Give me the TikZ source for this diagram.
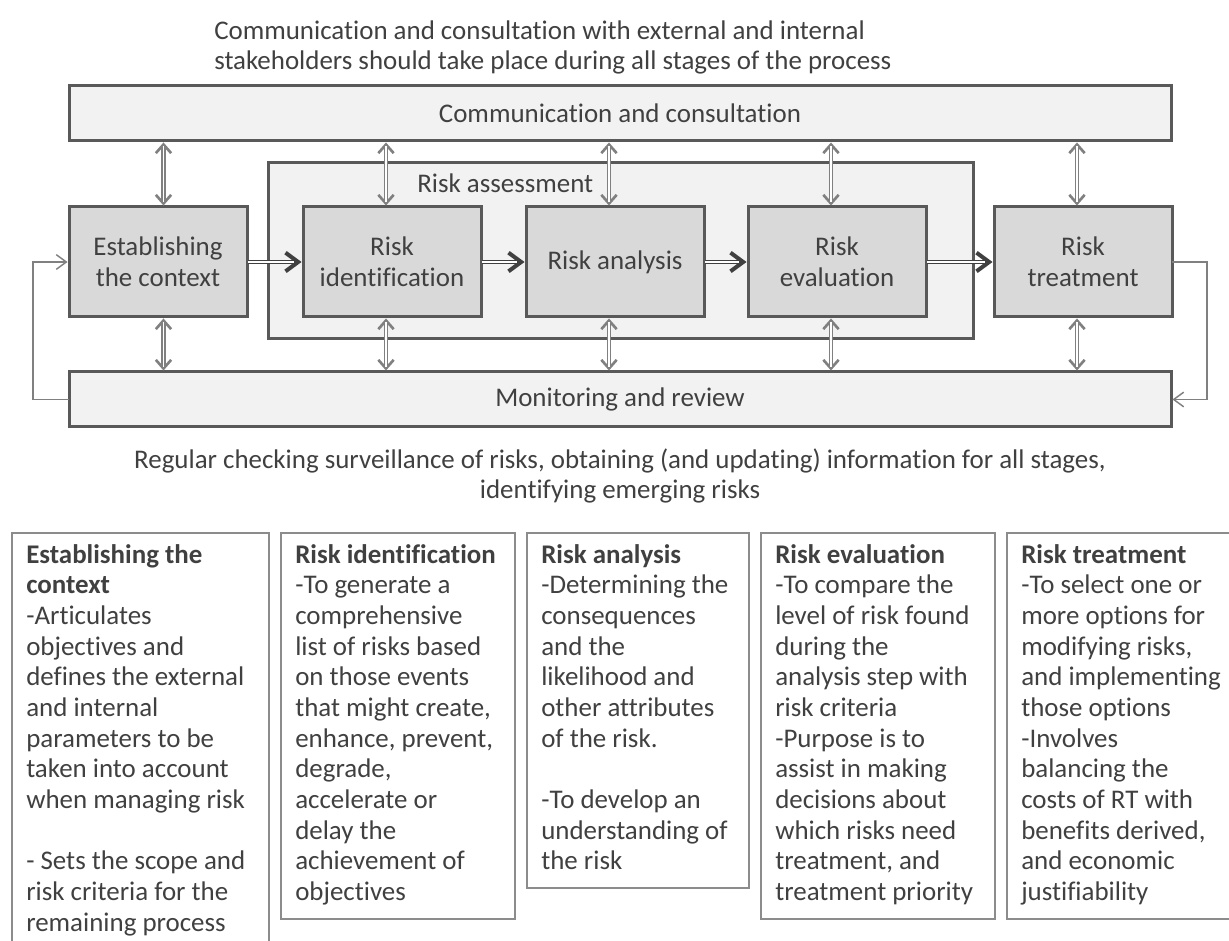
\documentclass[tikz,border=0pt]{standalone}
\usepackage{fontspec}
\setmainfont{Carlito}[Ligatures=NoCommon]
\usetikzlibrary{arrows.meta,calc}

\definecolor{txt}{HTML}{404040}
\definecolor{edge}{HTML}{595959}
\definecolor{light}{HTML}{F2F2F2}
\definecolor{mid}{HTML}{D9D9D9}
\definecolor{link}{HTML}{808080}
\definecolor{frame}{HTML}{8C8C8C}

\tikzset{
  lab/.style={font=\fontsize{20.2}{23}\selectfont, text=txt, inner sep=0pt},
  band/.style={lab, draw=edge, line width=2.25pt, fill=light, outer sep=0pt,
    minimum width=826.5pt, minimum height=41.25pt},
  stagebox/.style={lab, draw=edge, line width=2.25pt, fill=mid, outer sep=0pt,
    align=center, minimum width=133.5pt, minimum height=82.5pt},
  assessbox/.style={draw=edge, line width=2.25pt, fill=light, outer sep=0pt,
    minimum width=528.75pt, minimum height=132pt},
  descbox/.style={draw=frame, line width=1pt, outer sep=0pt, inner sep=0pt,
    anchor=north west},
  desctext/.style={lab, align=left, anchor=north west},
  % two-way link: heads first, double shaft on top
  vhead/.style={draw=link, line width=1.4pt, shorten <=1.1pt, shorten >=1.1pt,
    {Straight Barb[length=6.5pt,width=11.5pt,line width=2pt]}-{Straight Barb[length=6.5pt,width=11.5pt,line width=2pt]}},
  vshaft/.style={draw=link, line width=1.1pt, double=white, double distance=1.3pt,
    shorten <=3.8pt, shorten >=3.8pt},
  % one-way flow between stages
  hhead/.style={draw=txt, line width=1pt, shorten <=1.1pt, shorten >=1.1pt,
    -{Straight Barb[length=9.5pt,width=14pt,line width=3pt]}},
  hshaft/.style={draw=txt, line width=0.9pt, double=white, double distance=1.1pt,
    shorten <=1.1pt, shorten >=7pt},
  feedback/.style={draw=link, line width=1.1pt, shorten >=1.1pt,
    -{Straight Barb[length=7.5pt,width=11pt,line width=1.1pt]}}
}

\begin{document}
\begin{tikzpicture}[x=0.75pt,y=-0.75pt]
\useasboundingbox (0,0) rectangle (1229,941);

% header note
\node[desctext] (topnote) at (214,17.5)
  {\strut Communication and consultation with external and internal\\
   stakeholders should take place during all stages of the process};

% bands and assessment frame
\node[band] (comm) at (620,113.5) {Communication and consultation};
\node[band] (mon) at (620,399.5) {Monitoring and review};
\node[assessbox] (assess) at (620.5,251) {};
\node[lab, anchor=base west] (asslabel) at (417,193) {Risk assessment};

% process stages
\node[stagebox] (est) at (158,262) {Establishing\\the context};
\node[stagebox] (rid) at (392,262) {Risk\\identification};
\node[stagebox] (ana) at (615,262) {Risk analysis};
\node[stagebox] (eva) at (837,262) {Risk\\evaluation};
\node[stagebox] (trt) at (1083,262) {Risk\\treatment};

% two-way links to the bands
\foreach \n/\s in {est/5.5, rid/-6, ana/-6, eva/-6, trt/-6} {
  \draw[vhead] ($(\n.north |- comm.south)+(\s,0)$) -- ($(\n.north)+(\s,0)$);
  \draw[vshaft] ($(\n.north |- comm.south)+(\s,0)$) -- ($(\n.north)+(\s,0)$);
  \draw[vhead] ($(\n.south)+(\s,0)$) -- ($(\n.south |- mon.north)+(\s,0)$);
  \draw[vshaft] ($(\n.south)+(\s,0)$) -- ($(\n.south |- mon.north)+(\s,0)$);
}

% flow between stages
\foreach \a/\b in {est/rid, rid/ana, ana/eva, eva/trt} {
  \draw[hhead] (\a.east) -- (\b.west);
  \draw[hshaft] (\a.east) -- (\b.west);
}

% feedback loops
\draw[feedback] (mon.west) -- ++(-36,0) |- (est.west);
\draw[feedback] (trt.east) -- ++(35,0) |- (mon.east);

% note under the monitoring band
\node[lab, align=center, anchor=north] (midnote) at (620,446.5)
  {\strut Regular checking surveillance of risks, obtaining (and updating) information for all stages,\\
   identifying emerging risks};

% description boxes
\node[descbox, minimum width=192.75pt, minimum height=312.75pt] (b1) at (12,533) {};
\node[descbox, minimum width=175.5pt, minimum height=289.5pt] (b2) at (281,533) {};
\node[descbox, minimum width=166.5pt, minimum height=266.25pt] (b3) at (527,533) {};
\node[descbox, minimum width=175.5pt, minimum height=289.5pt] (b4) at (761,533) {};
\node[descbox, minimum width=175.5pt, minimum height=289.5pt] (b5) at (1007,533) {};

\node[desctext] (t1) at ([xshift=10.5pt,yshift=-6.4pt]b1.north west)
  {\strut\textbf{Establishing the}\\\textbf{context}\\-Articulates\\objectives and\\
   defines the external\\and internal\\parameters to be\\taken into account\\
   when managing risk\\[23pt]- Sets the scope and\\risk criteria for the\\remaining process};
\node[desctext] (t2) at ([xshift=10.5pt,yshift=-6.4pt]b2.north west)
  {\strut\textbf{Risk identification}\\-To generate a\\comprehensive\\list of risks based\\
   on those events\\that might create,\\enhance, prevent,\\degrade,\\accelerate or\\
   delay the\\achievement of\\objectives};
\node[desctext] (t3) at ([xshift=10.5pt,yshift=-6.4pt]b3.north west)
  {\strut\textbf{Risk analysis}\\-Determining the\\consequences\\and the\\likelihood and\\
   other attributes\\of the risk.\\[23pt]-To develop an\\understanding of\\the risk};
\node[desctext] (t4) at ([xshift=10.5pt,yshift=-6.4pt]b4.north west)
  {\strut\textbf{Risk evaluation}\\-To compare the\\level of risk found\\during the\\
   analysis step with\\risk criteria\\-Purpose is to\\assist in making\\
   decisions about\\which risks need\\treatment, and\\treatment priority};
\node[desctext] (t5) at ([xshift=10.5pt,yshift=-6.4pt]b5.north west)
  {\strut\textbf{Risk treatment}\\-To select one or\\more options for\\modifying risks,\\
   and implementing\\those options\\-Involves\\balancing the\\costs of RT with\\
   benefits derived,\\and economic\\justifiability};
\end{tikzpicture}
\end{document}
